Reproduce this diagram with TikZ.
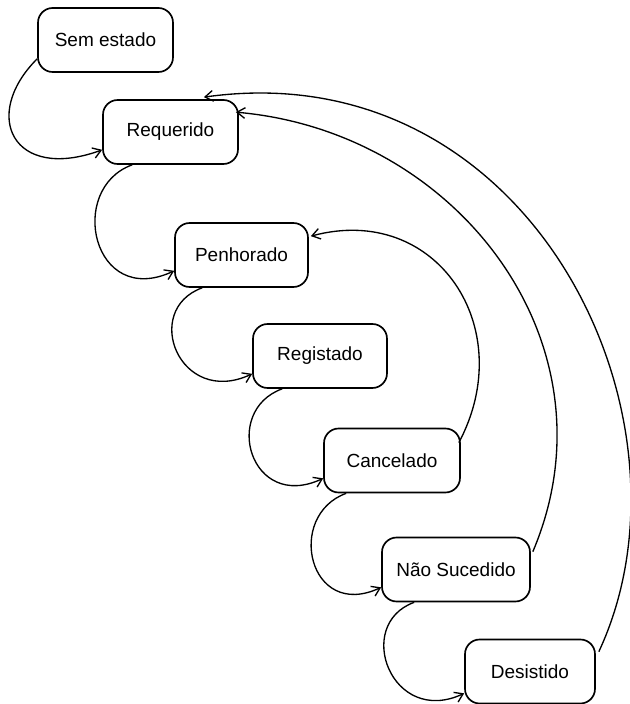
\documentclass[tikz,border=0pt]{standalone}
\usepackage{fontspec}
\setmainfont{Liberation Sans}
\usetikzlibrary{arrows.meta,calc}
\begin{document}
\begin{tikzpicture}[x=0.75pt,y=0.75pt,
  state/.style={draw, line width=1.25pt, rounded corners=11pt,
    minimum height=48pt, inner sep=0pt,
    font=\fontsize{14.25pt}{17pt}\selectfont},
  trans/.style={line width=1pt, -{Straight Barb[length=6pt,width=8pt]}}]
\useasboundingbox (0,0) rectangle (629,704);

% states, top left to bottom right
\node[state, minimum width=101.25pt] (sem) at (105.5,664)   {Sem estado};
\node[state, minimum width=101.25pt] (req) at (170.5,572)   {Requerido};
\node[state, minimum width=99.75pt]  (pen) at (241.5,449)   {Penhorado};
\node[state, minimum width=100.5pt]  (reg) at (320,348)     {Registado};
\node[state, minimum width=102pt]    (can) at (392,243.5)   {Cancelado};
\node[state, minimum width=111pt]    (nao) at (456,134.5)   {Não Sucedido};
\node[state, minimum width=97.5pt]   (des) at (530,32.5)    {Desistido};

% forward transitions: loops round the left of each step
\draw[trans] ($(sem.south west)+(0,14)$) .. controls +(225:80) and +(200:95) .. ($(req.south west)+(0,15)$);
\draw[trans] ($(req.south west)+(30,0)$) .. controls +(200:70) and +(205:90) .. ($(pen.south west)+(0,17)$);
\draw[trans] ($(pen.south west)+(28,0)$) .. controls +(200:65) and +(205:80) .. ($(reg.south west)+(0,15)$);
\draw[trans] ($(reg.south west)+(30,0)$) .. controls +(200:65) and +(205:80) .. ($(can.south west)+(0,15)$);
\draw[trans] ($(can.south west)+(23,0)$) .. controls +(200:65) and +(205:80) .. ($(nao.south west)+(0,15)$);
\draw[trans] ($(nao.south west)+(33,0)$) .. controls +(200:65) and +(205:80) .. ($(des.south west)+(0,11)$);

% return transitions: wide arcs on the right
\draw[trans] ($(can.north east)+(-2,-15)$) .. controls +(62:130) and +(15:130) .. ($(pen.north east)+(2,-14)$);
\draw[trans] ($(nao.north east)+(2,-15)$) .. controls +(67:224) and +(-5:224) .. ($(req.north east)+(-3,-13)$);
\draw[trans] ($(des.north east)+(3,-13)$) .. controls +(65:258) and +(8:330) .. ($(req.north east)+(-35,2)$);
\end{tikzpicture}
\end{document}
